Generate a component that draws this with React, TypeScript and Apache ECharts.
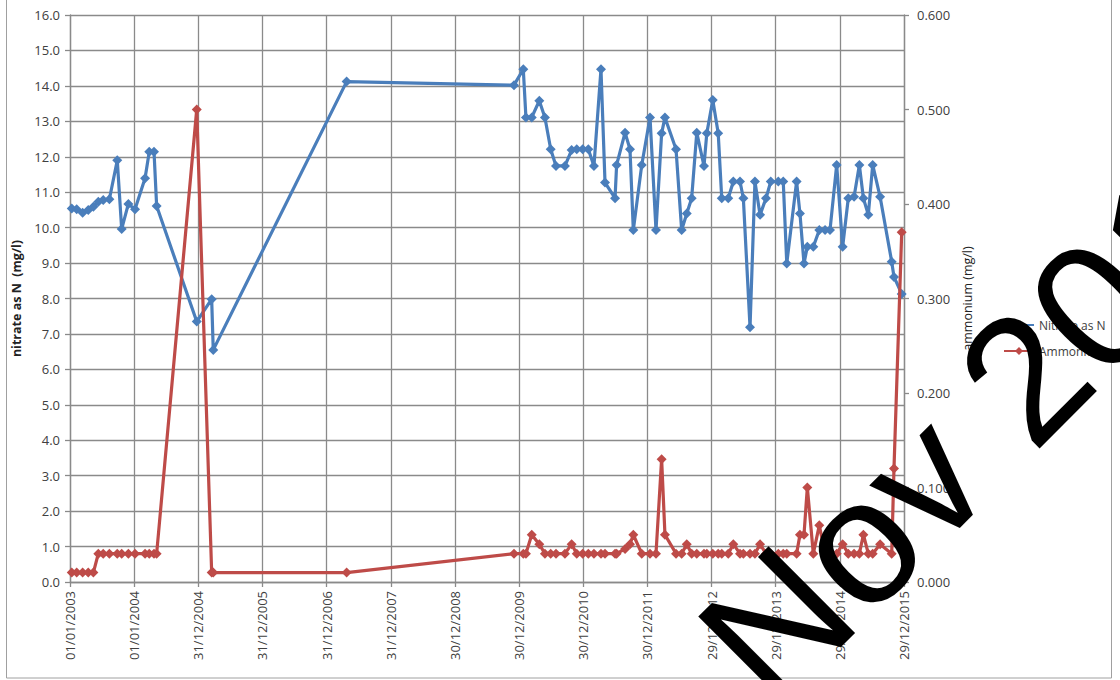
import React, { useEffect, useRef } from "react";
import * as echarts from "echarts";

// Sample dates (shared by both determinands)
const sampleDates: string[] = [
  "2003-01-11", "2003-02-08", "2003-03-14", "2003-04-15", "2003-05-14", "2003-06-11",
  "2003-07-09", "2003-08-13", "2003-09-27", "2003-10-22", "2003-11-29", "2004-01-06",
  "2004-03-03", "2004-03-27", "2004-04-23", "2004-05-08", "2004-12-22", "2005-03-17",
  "2005-03-26", "2007-04-24", "2009-12-01", "2010-01-23", "2010-02-07", "2010-03-12",
  "2010-04-24", "2010-05-26", "2010-06-28", "2010-07-28", "2010-09-17", "2010-10-25",
  "2010-11-23", "2010-12-27", "2011-01-28", "2011-03-01", "2011-04-10", "2011-05-03",
  "2011-06-29", "2011-07-08", "2011-08-25", "2011-09-22", "2011-10-11", "2011-11-28",
  "2012-01-14", "2012-02-17", "2012-03-20", "2012-04-08", "2012-06-10", "2012-07-12",
  "2012-08-10", "2012-09-07", "2012-10-06", "2012-11-16", "2012-12-02", "2013-01-05",
  "2013-02-05", "2013-02-25", "2013-04-03", "2013-05-02", "2013-06-09", "2013-06-28",
  "2013-08-05", "2013-09-02", "2013-10-01", "2013-11-04", "2013-12-01", "2014-01-13",
  "2014-02-10", "2014-03-02", "2014-04-27", "2014-05-16", "2014-06-08", "2014-06-27",
  "2014-07-31", "2014-09-03", "2014-10-06", "2014-11-03", "2014-12-11", "2015-01-14",
  "2015-02-15", "2015-03-20", "2015-04-19", "2015-05-12", "2015-06-09", "2015-07-04",
  "2015-08-15", "2015-10-20", "2015-11-02", "2015-12-16",
];

// Nitrate as N (mg/l), left axis
const nitrate: number[] = [
  10.54, 10.52, 10.42, 10.5, 10.59, 10.73,
  10.78, 10.8, 11.9, 9.96, 10.67, 10.52,
  11.39, 12.14, 12.14, 10.61, 7.35, 7.98,
  6.55, 14.12, 14.02, 14.47, 13.11, 13.11,
  13.58, 13.11, 12.21, 11.74, 11.74, 12.19,
  12.21, 12.21, 12.21, 11.74, 14.47, 11.27,
  10.83, 11.77, 12.68, 12.21, 9.93, 11.77,
  13.11, 9.93, 12.66, 13.11, 12.21, 9.93,
  10.4, 10.83, 12.68, 11.74, 12.66, 13.6,
  12.66, 10.83, 10.83, 11.3, 11.3, 10.83,
  7.19, 11.3, 10.36, 10.83, 11.3, 11.3,
  11.3, 8.99, 11.3, 10.4, 8.99, 9.46,
  9.46, 9.93, 9.93, 9.93, 11.77, 9.46,
  10.83, 10.87, 11.77, 10.83, 10.36, 11.77,
  10.87, 9.04, 8.61, 8.13,
];

// Ammonium (mg/l), right axis
const ammonium: number[] = [
  0.01, 0.01, 0.01, 0.01, 0.01, 0.03,
  0.03, 0.03, 0.03, 0.03, 0.03, 0.03,
  0.03, 0.03, 0.03, 0.03, 0.5, 0.01,
  0.01, 0.01, 0.03, 0.03, 0.03, 0.05,
  0.04, 0.03, 0.03, 0.03, 0.03, 0.04,
  0.03, 0.03, 0.03, 0.03, 0.03, 0.03,
  0.03, 0.03, 0.035, 0.04, 0.05, 0.03,
  0.03, 0.03, 0.13, 0.05, 0.03, 0.03,
  0.04, 0.03, 0.03, 0.03, 0.03, 0.03,
  0.03, 0.03, 0.03, 0.04, 0.03, 0.03,
  0.03, 0.03, 0.04, 0.03, 0.03, 0.03,
  0.03, 0.03, 0.03, 0.05, 0.05, 0.1,
  0.03, 0.06, 0.03, 0.03, 0.03, 0.04,
  0.03, 0.03, 0.03, 0.05, 0.03, 0.03,
  0.04, 0.03, 0.12, 0.37,
];

const seriesNames: string[] = ["Nitrate as N", "Ammonium"];
const axisNames: string[] = ["nitrate as N  (mg/l)", "ammonium (mg/l)"];
const watermarkText = "Nov 2015";

const START = Date.UTC(2003, 0, 1);
const DAY = 86400000;
const X_MAX_DAYS = 4745; // 29/12/2015
const X_STEP_DAYS = 365;

const toDay = (s: string) => {
  const [y, m, d] = s.split("-").map(Number);
  return Math.round((Date.UTC(y, m - 1, d) - START) / DAY);
};
const pad = (n: number) => (n < 10 ? "0" + n : "" + n);
const fmtDay = (v: number) => {
  const dt = new Date(START + v * DAY);
  return pad(dt.getUTCDate()) + "/" + pad(dt.getUTCMonth() + 1) + "/" + dt.getUTCFullYear();
};

const BLUE = "#4a7ebb";
const RED = "#be4b48";
const GRID = "#8a8a8a";
const FONT = "Open Sans";

export default function App() {
  const ref = useRef<HTMLDivElement>(null);
  useEffect(() => {
    if (!ref.current) return;
    const chart = echarts.init(ref.current, null, { renderer: "svg" });
    const days = sampleDates.map(toDay);
    const option: any = {
      animation: false,
      backgroundColor: "#ffffff",
      textStyle: { fontFamily: FONT },
      grid: { left: 70, right: 216, top: 15, bottom: 98, containLabel: false },
      legend: {
        orient: "vertical",
        left: 998,
        top: 314,
        itemWidth: 30,
        itemHeight: 10,
        itemGap: 14,
        textStyle: { fontSize: 12, color: "#404040", fontFamily: FONT },
        data: seriesNames,
      },
      xAxis: {
        type: "value",
        min: 0,
        max: X_MAX_DAYS,
        interval: X_STEP_DAYS,
        axisLine: { show: true, lineStyle: { color: GRID, width: 1.3 } },
        axisTick: { show: true, length: 5, lineStyle: { color: GRID, width: 1.3 } },
        splitLine: { show: true, lineStyle: { color: GRID, width: 1.3 } },
        axisLabel: {
          rotate: 90,
          margin: 9,
          fontSize: 13,
          color: "#404040",
          fontFamily: FONT,
          formatter: (v: number) => fmtDay(v),
        },
      },
      yAxis: [
        {
          type: "value",
          position: "left",
          min: 0,
          max: 16,
          interval: 1,
          name: axisNames[0],
          nameLocation: "middle",
          nameGap: 42,
          nameTextStyle: { fontSize: 12.5, fontWeight: "bold", color: "#222", fontFamily: FONT },
          axisLine: { show: true, lineStyle: { color: GRID, width: 1.3 } },
          axisTick: { show: true, length: 5, lineStyle: { color: GRID, width: 1.3 } },
          splitLine: { show: true, lineStyle: { color: GRID, width: 1.3 } },
          axisLabel: {
            margin: 10,
            fontSize: 13,
            color: "#404040",
            fontFamily: FONT,
            formatter: (v: number) => v.toFixed(1),
          },
        },
        {
          type: "value",
          position: "right",
          min: 0,
          max: 0.6,
          interval: 0.1,
          name: axisNames[1],
          nameLocation: "middle",
          nameRotate: 90,
          nameGap: 55,
          nameTextStyle: { fontSize: 12.5, color: "#222", fontFamily: FONT },
          axisLine: { show: true, lineStyle: { color: GRID, width: 1.3 } },
          axisTick: { show: true, length: 5, lineStyle: { color: GRID, width: 1.3 } },
          splitLine: { show: false },
          axisLabel: {
            margin: 13,
            fontSize: 13,
            color: "#404040",
            fontFamily: FONT,
            formatter: (v: number) => v.toFixed(3),
          },
        },
      ],
      series: [
        {
          name: seriesNames[0],
          type: "line",
          yAxisIndex: 0,
          data: days.map((d, i) => [d, nitrate[i]]),
          symbol: "diamond",
          symbolSize: 10,
          lineStyle: { width: 3.2, color: BLUE },
          itemStyle: { color: BLUE },
          z: 3,
        },
        {
          name: seriesNames[1],
          type: "line",
          yAxisIndex: 1,
          data: days.map((d, i) => [d, ammonium[i]]),
          symbol: "diamond",
          symbolSize: 10,
          lineStyle: { width: 3.2, color: RED },
          itemStyle: { color: RED },
          z: 4,
        },
      ],
      graphic: [
        {
          type: "rect",
          z: 0,
          silent: true,
          shape: { x: 6.5, y: -5, width: 1105, height: 683 },
          style: { fill: "none", stroke: "#a0a0a0", lineWidth: 1 },
        },
        {
          type: "text",
          z: 100,
          silent: true,
          x: 731,
          y: 670,
          rotation: (45 * Math.PI) / 180,
          style: {
            text: watermarkText,
            fontSize: 178,
            fontFamily: "Liberation Sans",
            fill: "#000000",
            textAlign: "left",
            textVerticalAlign: "middle",
          },
        },
      ],
    };
    chart.setOption(option);
    return () => chart.dispose();
  }, []);
  return (
    <div
      ref={ref}
      style={{ position: "fixed", left: 0, top: 0, width: 1120, height: 680, background: "#fff" }}
    />
  );
}
